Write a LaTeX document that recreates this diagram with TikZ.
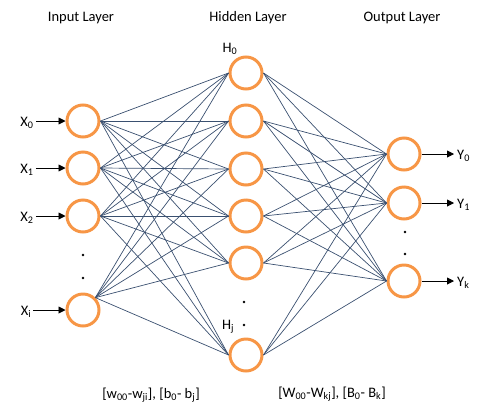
\documentclass[tikz,border=0pt]{standalone}
\usepackage{fontspec}
\setmainfont{Carlito}
\usetikzlibrary{arrows.meta}
\definecolor{neuron}{HTML}{F79646}
\definecolor{wire}{HTML}{3A5070}
\tikzset{
  neuronnode/.style={circle, draw=neuron, line width=3pt, minimum size=32pt, inner sep=0pt},
  wireline/.style={draw=wire, line width=0.7pt},
  arr/.style={draw=black, line width=0.9pt, -{Triangle[length=7pt,width=7pt]}},
  lbl/.style={font=\fontsize{14.5}{16}\selectfont, text=black, inner sep=2pt},
  dotnode/.style={circle, fill=black, inner sep=0pt, minimum size=2.6pt}
}
\begin{document}
\begin{tikzpicture}[x=1pt,y=-1pt]
\useasboundingbox (0,0) rectangle (486,413);
% layer titles
\node[lbl] (tin) at (81,18) {Input Layer};
\node[lbl] (thid) at (248,18) {Hidden Layer};
\node[lbl] (tout) at (402,18) {Output Layer};
% input neurons
\node[neuronnode] (i0) at (83,121) {};
\node[neuronnode] (i1) at (83,168) {};
\node[neuronnode] (i2) at (83,216) {};
\node[neuronnode] (i3) at (83,310) {};
% hidden neurons
\node[neuronnode] (h0) at (246,73) {};
\node[neuronnode] (h1) at (246,121) {};
\node[neuronnode] (h2) at (246,169) {};
\node[neuronnode] (h3) at (246,216) {};
\node[neuronnode] (h4) at (246,263) {};
\node[neuronnode] (h5) at (246,355) {};
% output neurons
\node[neuronnode] (o0) at (404,154) {};
\node[neuronnode] (o1) at (404,203) {};
\node[neuronnode] (o2) at (404,281) {};
% connections input -> hidden
\foreach \h in {h0,h1,h2,h3,h4,h5}{
  \foreach \i in {i0,i1,i2}{
    \draw[wireline] (\i.east) -- (\h.west);
  }
  \draw[wireline] (i3.north east) -- (\h.west);
}
% connections hidden -> output
\foreach \h in {h0,h1,h2,h3,h4,h5}{
  \foreach \o in {o0,o1,o2}{
    \draw[wireline] (\h.east) -- (\o.west);
  }
}
% input labels and arrows
\node[lbl] (x0l) at (27,123) {X\textsubscript{0}};
\node[lbl] (x1l) at (27,170) {X\textsubscript{1}};
\node[lbl] (x2l) at (27,218) {X\textsubscript{2}};
\node[lbl] (x3l) at (26,312) {X\textsubscript{i}};
\draw[arr] (x0l.east |- i0) -- (i0);
\draw[arr] (x1l.east |- i1) -- (i1);
\draw[arr] (x2l.east |- i2) -- (i2);
\draw[arr] (x3l.east |- i3) -- (i3);
% output labels and arrows
\node[lbl, anchor=west, inner sep=3pt] (y0l) at (454,156) {Y\textsubscript{0}};
\node[lbl, anchor=west, inner sep=3pt] (y1l) at (454,205) {Y\textsubscript{1}};
\node[lbl, anchor=west, inner sep=3pt] (y2l) at (454,283) {Y\textsubscript{k}};
\draw[arr] (o0) -- (o0 -| y0l.west);
\draw[arr] (o1) -- (o1 -| y1l.west);
\draw[arr] (o2) -- (o2 -| y2l.west);
% hidden labels
\node[lbl] (h0l) at (230,49) {H\textsubscript{0}};
\node[lbl] (h5l) at (228,327) {H\textsubscript{j}};
% ellipsis dots
\node[dotnode] (di1) at (83,255) {};
\node[dotnode] (di2) at (83,278) {};
\node[dotnode] (dh1) at (244,302) {};
\node[dotnode] (dh2) at (244,325) {};
\node[dotnode] (do1) at (405,232) {};
\node[dotnode] (do2) at (405,254) {};
% weight labels
\node[lbl] (wl) at (151,395) {[w\textsubscript{00}-w\textsubscript{ji}], [b\textsubscript{0}- b\textsubscript{j}]};
\node[lbl] (wr) at (332,394) {[W\textsubscript{00}-W\textsubscript{kj}], [B\textsubscript{0}- B\textsubscript{k}]};
\end{tikzpicture}
\end{document}
